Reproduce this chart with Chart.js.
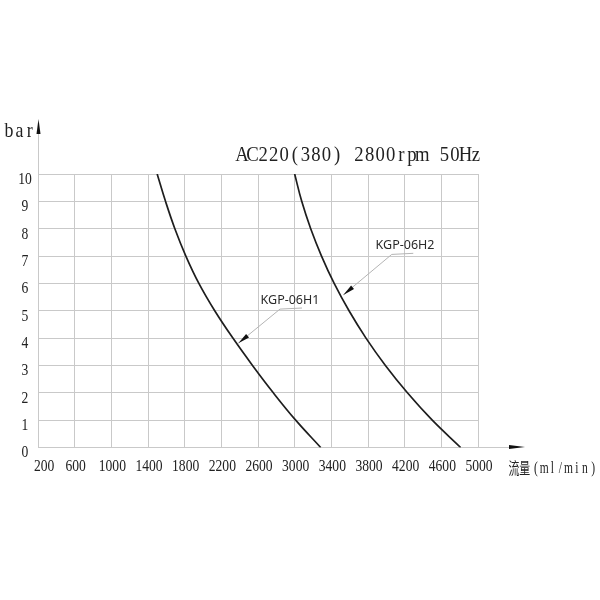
<!DOCTYPE html>
<html>
<head>
<meta charset="utf-8">
<script src="https://cdn.jsdelivr.net/npm/chart.js@4.4.1/dist/chart.umd.min.js"></script>
<style>
  html, body { margin: 0; padding: 0; background: #ffffff; }
  #wrap { width: 600px; height: 600px; }
</style>
</head>
<body>
<div id="wrap"><canvas id="c" width="600" height="600"></canvas></div>
<script>
// ---------------- data ----------------
const pressureBar = [10, 9, 8, 7, 6, 5, 4, 3, 2, 1, 0];
const flowH1 = [1500, 1591, 1693, 1813, 1955, 2128, 2326, 2540, 2767, 3011, 3284];
const flowH2 = [3000, 3077, 3175, 3293, 3431, 3593, 3778, 3990, 4230, 4501, 4811];
const seriesNames = ['KGP-06H1', 'KGP-06H2'];
const xTickValues = [200, 600, 1000, 1400, 1800, 2200, 2600, 3000, 3400, 3800, 4200, 4600, 5000];
const yTickValues = [0, 1, 2, 3, 4, 5, 6, 7, 8, 9, 10];
const titleText = 'AC220(380)  2800rpm  50Hz';
const yAxisName = 'bar';
const xAxisNameCJK = '流量';
const xAxisNameUnit = '(ml/min)';
// callout anchors (data coordinates): arrow tip on the curve, elbow of leader, end of underline, label centre
const callouts = [
  { text: seriesNames[0], tip: [2385, 3.81], elbow: [2840, 5.06], end: [3080, 5.10], label: [2949, 5.39] },
  { text: seriesNames[1], tip: [3531, 5.58], elbow: [4059, 7.06], end: [4294, 7.10], label: [4204, 7.40] }
];

// ---------------- styling ----------------
const GRID = '#c9c9c9';
const INK = '#1e1e1e';
const SERIF = "'Liberation Serif', 'DejaVu Serif', serif";
const TICK_SX = 0.8;

function toPts(xs, ys) { return xs.map((x, i) => ({ x: x, y: ys[i] })); }

// condensed tick label renderer (positions computed by the library's scale)
function condensedDrawLabels(chartArea) {
  const topts = this.options.ticks;
  if (!topts.display) return;
  const ctx = this.ctx;
  const area = this.chart.chartArea;
  const items = this.getLabelItems(chartArea);
  for (const it of items) {
    const o = it.options;
    ctx.save();
    ctx.font = it.font.string;
    ctx.fillStyle = o.color;
    ctx.textAlign = o.textAlign;
    ctx.textBaseline = o.textBaseline;
    let tx = o.translation[0];
    if (this.isHorizontal()) {
      // keep the first label clear of the y-axis label column
      const half = ctx.measureText(String(it.label)).width * TICK_SX / 2;
      if (tx - half < area.left - 4) tx = area.left - 4 + half;
    }
    ctx.translate(tx, o.translation[1]);
    if (o.rotation) ctx.rotate(o.rotation);
    ctx.scale(TICK_SX, 1);
    const lines = Array.isArray(it.label) ? it.label : [it.label];
    lines.forEach((l, i) => ctx.fillText(String(l), 0, it.textOffset + i * it.font.lineHeight));
    ctx.restore();
  }
}

// fixed-pitch condensed text (CAD-like lettering)
function drawPitched(ctx, text, firstCenter, baseline, pitch, spaceAdv, font, sx, color) {
  ctx.save();
  ctx.font = font;
  ctx.fillStyle = color;
  ctx.textAlign = 'center';
  ctx.textBaseline = 'alphabetic';
  let x = firstCenter - pitch / 2;
  for (const ch of text) {
    if (ch === ' ') { x += spaceAdv; continue; }
    ctx.save();
    ctx.translate(x + pitch / 2, baseline);
    ctx.scale(sx, 1);
    ctx.fillText(ch, 0, 0);
    ctx.restore();
    x += pitch;
  }
  ctx.restore();
}

const decorPlugin = {
  id: 'decor',
  beforeDraw(chart) {
    for (const s of Object.values(chart.scales)) {
      if (!s._condensed) { s.drawLabels = condensedDrawLabels; s._condensed = true; }
    }
  },
  afterDatasetsDraw(chart) {
    const ctx = chart.ctx;
    const xs = chart.scales.x, ys = chart.scales.y;
    const P = (p) => [xs.getPixelForValue(p[0]), ys.getPixelForValue(p[1])];
    for (const c of callouts) {
      const tip = P(c.tip), elbow = P(c.elbow), end = P(c.end), lab = P(c.label);
      ctx.save();
      ctx.strokeStyle = '#b4b4b4';
      ctx.lineWidth = 1;
      ctx.beginPath();
      ctx.moveTo(tip[0], tip[1]);
      ctx.lineTo(elbow[0], elbow[1]);
      ctx.lineTo(end[0], end[1]);
      ctx.stroke();
      // arrow head
      const dx = elbow[0] - tip[0], dy = elbow[1] - tip[1];
      const len = Math.hypot(dx, dy), ux = dx / len, uy = dy / len;
      const L = 12, W = 2.3;
      const bx = tip[0] + ux * L, by = tip[1] + uy * L;
      ctx.fillStyle = '#111';
      ctx.beginPath();
      ctx.moveTo(tip[0], tip[1]);
      ctx.lineTo(bx - uy * W, by + ux * W);
      ctx.lineTo(bx + uy * W, by - ux * W);
      ctx.closePath();
      ctx.fill();
      // label
      ctx.font = "12.5px 'Noto Sans', 'Open Sans', sans-serif";
      ctx.fillStyle = '#2a2a2a';
      ctx.textAlign = 'center';
      ctx.textBaseline = 'middle';
      ctx.fillText(c.text, lab[0], lab[1]);
      ctx.restore();
    }
  },
  afterDraw(chart) {
    const ctx = chart.ctx;
    const a = chart.chartArea;
    ctx.save();
    // y axis extension + arrow
    ctx.strokeStyle = GRID;
    ctx.lineWidth = 1;
    ctx.beginPath();
    ctx.moveTo(a.left + 0.5, a.top);
    ctx.lineTo(a.left + 0.5, a.top - 40);
    ctx.stroke();
    ctx.fillStyle = '#111';
    ctx.beginPath();
    ctx.moveTo(a.left + 0.5, a.top - 55);
    ctx.lineTo(a.left + 0.5 - 2, a.top - 40);
    ctx.lineTo(a.left + 0.5 + 2, a.top - 40);
    ctx.closePath();
    ctx.fill();
    // x axis extension + arrow
    ctx.beginPath();
    ctx.moveTo(a.right, a.bottom);
    ctx.lineTo(a.right + 33, a.bottom);
    ctx.stroke();
    ctx.beginPath();
    ctx.moveTo(a.right + 47, a.bottom - 0.5);
    ctx.lineTo(a.right + 31, a.bottom - 0.5 - 2);
    ctx.lineTo(a.right + 31, a.bottom - 0.5 + 2);
    ctx.closePath();
    ctx.fill();
    ctx.restore();

    // title
    drawPitched(ctx, titleText, a.right - 236, a.top - 13, 10.56, 5.7, '22px ' + SERIF, 0.85, '#222');
    // y axis name
    drawPitched(ctx, yAxisName, a.left - 29, a.top - 37.5, 10.4, 5, '21px ' + SERIF, 0.85, '#222');
    // x axis name
    drawPitched(ctx, xAxisNameCJK, a.right + 36, a.bottom + 26.5, 10.7, 5, "16px 'Noto Sans CJK SC', sans-serif", 0.68, '#222');
    drawPitched(ctx, xAxisNameUnit, a.right + 58, a.bottom + 25.5, 8.15, 5, '16px ' + SERIF, 0.72, '#222');
  }
};

new Chart(document.getElementById('c'), {
  type: 'line',
  data: {
    datasets: [
      { label: seriesNames[0], data: toPts(flowH1, pressureBar) },
      { label: seriesNames[1], data: toPts(flowH2, pressureBar) }
    ]
  },
  options: {
    responsive: false,
    devicePixelRatio: 1,
    animation: false,
    events: [],
    layout: { padding: { top: 174, right: 122, bottom: 122.5, left: 0 } },
    elements: {
      line: { borderColor: INK, borderWidth: 1.7, tension: 0.4, fill: false },
      point: { radius: 0 }
    },
    plugins: { legend: { display: false }, title: { display: false }, tooltip: { enabled: false } },
    scales: {
      x: {
        type: 'linear',
        min: xTickValues[0],
        max: xTickValues[xTickValues.length - 1],
        afterBuildTicks: (s) => { s.ticks = xTickValues.map(v => ({ value: v })); },
        afterFit: (s) => { s.height = 30; },
        grid: { color: GRID, lineWidth: 1, drawTicks: false },
        border: { color: GRID },
        ticks: {
          autoSkip: false, maxRotation: 0, padding: 9, labelOffset: 1,
          color: '#222', font: { family: SERIF, size: 17 },
          callback: (v) => String(v)
        }
      },
      y: {
        type: 'linear',
        min: yTickValues[0],
        max: yTickValues[yTickValues.length - 1],
        afterBuildTicks: (s) => { s.ticks = yTickValues.map(v => ({ value: v })); },
        afterFit: (s) => { s.width = 38; },
        grid: { color: GRID, lineWidth: 1, drawTicks: false },
        border: { color: GRID },
        ticks: {
          autoSkip: false, padding: 4.5, crossAlign: 'center', labelOffset: 5.5,
          color: '#222', font: { family: SERIF, size: 17 },
          callback: (v) => String(v)
        }
      }
    }
  },
  plugins: [decorPlugin]
});
</script>
</body>
</html>
